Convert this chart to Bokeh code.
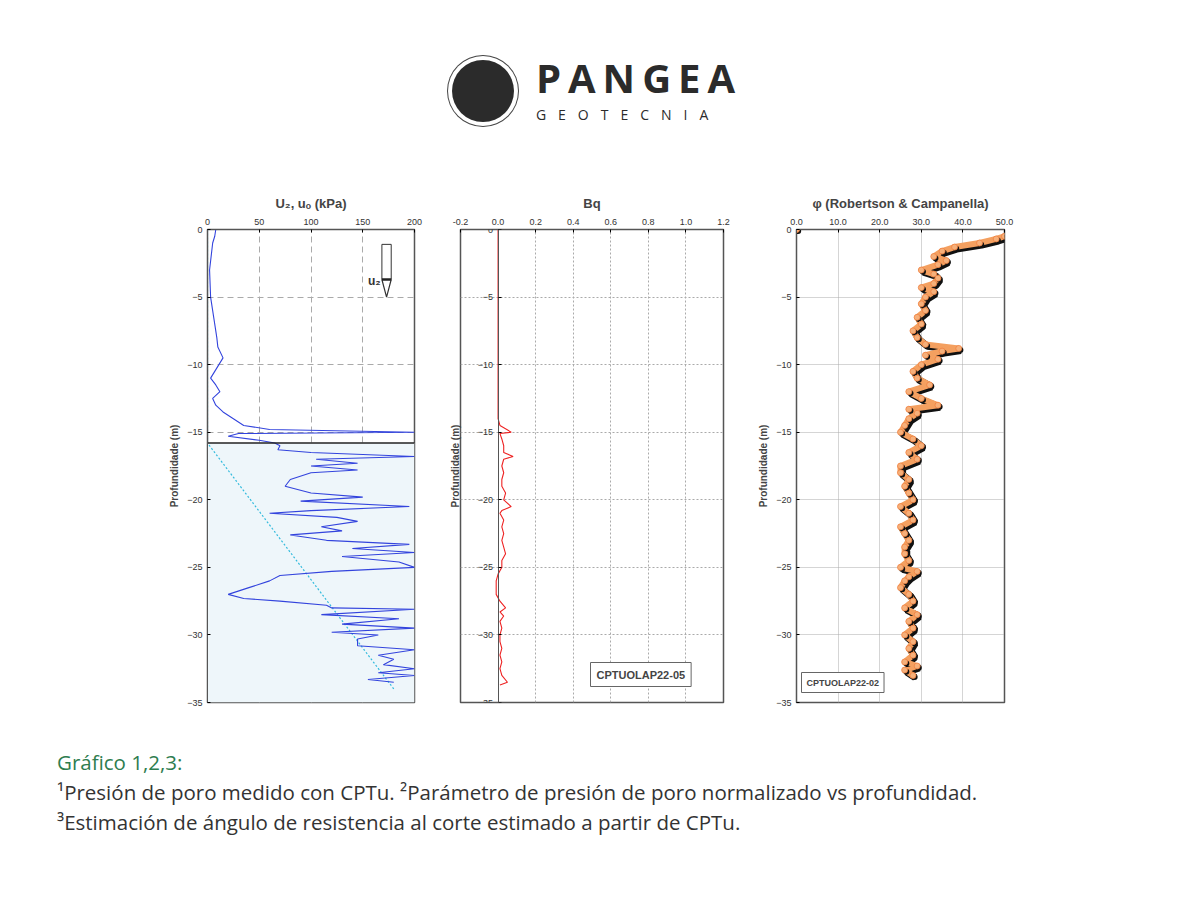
from bokeh.plotting import figure
from bokeh.layouts import column, row
from bokeh.models import Div, Spacer, Range1d, Label, FixedTicker, LinearAxis
from bokeh.embed import file_html
from bokeh.resources import INLINE

# ---------------- data ----------------
u2_depth = [0, -0.5, -1, -3, -5, -6, -7, -8, -8.7, -9.5, -10.5, -11, -11.5, -12, -12.5, -13, -13.5, -14, -14.5,
            -14.8, -15.0, -15.1, -15.3, -15.6, -15.8, -16.0, -16.3, -16.5, -16.8, -17.0, -17.3, -17.5, -17.8, -18.0,
            -18.5, -19.0, -19.5, -19.8, -20.1, -20.5, -20.8, -21.0, -21.3, -21.6, -22.0, -22.3, -22.6, -23.0, -23.3,
            -23.6, -23.9, -24.2, -24.6, -25.0, -25.3, -25.6, -26.0, -26.5, -27.0, -27.3, -27.5, -27.8, -28.0, -28.1,
            -28.5, -28.8, -29.2, -29.5, -29.8, -30.0, -30.3, -30.8, -31.1, -31.5, -31.8, -32.2, -32.5, -32.8, -33.0,
            -33.3, -33.5]
u2_val = [8, 7, 5, 2, 3, 5, 7, 9, 10, 15, 7, 3, 8, 12, 5, 8, 15, 25, 35,
          60, 200, 30, 20, 50, 65, 70, 68, 100, 200, 105, 145, 100, 145, 100,
          80, 75, 100, 150, 90, 195, 100, 60, 125, 145, 110, 130, 80, 115, 195,
          140, 200, 130, 185, 200, 120, 70, 60, 40, 20, 35, 70, 115, 120, 200,
          110, 185, 130, 200, 120, 165, 145, 145, 200, 165, 180, 170, 200, 165, 200,
          155, 180]
uo_depth = [0, -15.8, -34.0]
uo_val = [0, 0, 180]
water_table = -15.8

bq_depth = [0, -14.0, -14.5, -15.0, -15.1, -15.5, -16.0, -16.5, -16.8, -17.0, -17.5, -18.0, -18.5, -19.0, -19.5,
            -20.0, -20.5, -20.8, -21.0, -21.5, -22.0, -22.5, -23.0, -23.5, -24.0, -24.5, -25.0, -25.5, -26.0,
            -26.5, -27.0, -27.5, -28.0, -28.3, -28.6, -29.0, -29.5, -30.0, -30.5, -31.0, -31.5, -32.0, -32.5,
            -33.0, -33.5, -33.7]
bq_val = [0.0, 0.0, 0.01, 0.07, 0.01, 0.02, 0.03, 0.03, 0.08, 0.03, 0.02, 0.03, 0.02, 0.02, 0.04,
          0.03, 0.07, 0.02, 0.01, 0.03, 0.02, 0.03, 0.02, 0.03, 0.04, 0.02, 0.02, 0.0, -0.01,
          -0.01, -0.01, 0.01, 0.04, 0.01, 0.03, 0.01, 0.02, 0.01, 0.01, 0.02, 0.01, 0.02, 0.01,
          0.02, 0.05, 0.01]

phi_depth = [-0.5, -0.7, -1.0, -1.3, -1.6, -2.0, -2.3, -2.6, -3.0, -3.3, -3.6, -4.0, -4.3, -4.6, -5.0, -5.5,
             -6.0, -6.5, -7.0, -7.5, -8.0, -8.5, -8.8, -9.0, -9.3, -9.6, -10.0, -10.5, -11.0, -11.5, -12.0, -12.5,
             -13.0, -13.3, -13.6, -14.0, -14.5, -15.0, -15.5, -16.0, -16.5, -17.0, -17.5, -18.0, -18.5, -19.0,
             -19.5, -20.0, -20.5, -21.0, -21.5, -22.0, -22.5, -23.0, -23.5, -24.0, -24.5, -25.0, -25.3, -25.7,
             -26.0, -26.5, -27.0, -27.5, -28.0, -28.5, -29.0, -29.5, -30.0, -30.5, -31.0, -31.5, -32.0, -32.3,
             -32.6, -33.0]
phi_val = [50, 48, 44, 38, 35, 33, 36, 34, 30, 33, 34, 33, 30, 33, 31, 30,
           31, 29, 30, 28, 29, 31, 39, 35, 31, 34, 30, 28, 29, 32, 27, 30,
           34, 27, 29, 27, 26, 25, 28, 30, 27, 29, 25, 25, 27, 26,
           27, 28, 25, 27, 28, 25, 26, 27, 26, 26, 27, 25, 29, 27,
           26, 25, 27, 28, 26, 29, 27, 28, 26, 28, 27, 28, 26, 29,
           26, 28]
phi_start = [0.0]
phi_start_depth = [0.0]

depth_ticks = [0, -5, -10, -15, -20, -25, -30, -35]
FONT = "Liberation Sans"


def base(x_range, xticks, fw, bl, br, title, grid_dash):
    p = figure(frame_width=fw, frame_height=473, x_range=x_range, y_range=Range1d(-35, 0),
               x_axis_location="above", output_backend="svg", toolbar_location=None,
               min_border_left=bl, min_border_right=br, min_border_top=10, min_border_bottom=12,
               background_fill_color="white", border_fill_color="white", outline_line_color="#555555",
               outline_line_width=1.5)
    p.title.text = title
    p.title.align = "center"
    p.title.text_font = FONT
    p.title.text_font_size = "13px"
    p.title.text_font_style = "bold"
    for ax in (p.xaxis[0], p.yaxis[0]):
        ax.major_label_text_font = FONT
        ax.major_label_text_font_size = "9px"
        ax.major_label_text_color = "#333333"
        ax.axis_line_color = "#555555"
        ax.major_tick_in = 3
        ax.major_tick_out = 0
        ax.minor_tick_line_color = None
    p.xaxis.ticker = FixedTicker(ticks=xticks)
    p.yaxis.ticker = FixedTicker(ticks=depth_ticks)
    p.yaxis.axis_label = "Profundidade (m)"
    p.yaxis.axis_label_text_font = FONT
    p.yaxis.axis_label_text_font_size = "10px"
    p.yaxis.axis_label_text_font_style = "bold"
    p.yaxis.axis_label_standoff = 4
    p.grid.grid_line_color = "#aaaaaa"
    p.grid.grid_line_dash = grid_dash
    p.grid.grid_line_width = 1
    p.xgrid.ticker = FixedTicker(ticks=xticks)
    p.ygrid.ticker = FixedTicker(ticks=depth_ticks)
    return p


# panel 1
p1 = base(Range1d(0, 200), [0, 50, 100, 150, 200], 207, 50, 10, "U₂, uₒ (kPa)", "6 4")
p1.xaxis.minor_tick_line_color = "#333333"
p1.xaxis.minor_tick_in = 3
p1.xaxis.minor_tick_out = 0
p1.quad(left=0, right=200, bottom=-35, top=water_table, fill_color="#eef6fa", line_color=None)
p1.line(uo_val, uo_depth, line_color="#33bbdd", line_dash="2 2", line_width=1.2)
p1.line(u2_val, u2_depth, line_color="#3344dd", line_width=1.1)
p1.segment(x0=0, x1=200, y0=water_table, y1=water_table, line_color="#222222", line_width=1.5)
p1.add_layout(Label(x=155, y=-4.3, text="u₂", text_font=FONT, text_font_size="12px",
                    text_font_style="bold", text_color="#333333"))
p1.rect(x=[173], y=[-2.4], width=9, height=2.6, fill_color="white", line_color="#333333")
p1.line([168.5, 173, 177.5], [-3.7, -5.0, -3.7], line_color="#333333", line_width=1.2)
p1.segment(x0=168.5, x1=177.5, y0=-3.7, y1=-3.7, line_color="#222222", line_width=2.5)

# panel 2
p2 = base(Range1d(-0.2, 1.2), [-0.2, 0.0, 0.2, 0.4, 0.6, 0.8, 1.0, 1.2], 263, 36, 10, "Bq", "2 2")
p2.xaxis.major_label_overrides = {-0.2: "-0.2", 0.0: "0.0", 0.2: "0.2", 0.4: "0.4", 0.6: "0.6",
                                  0.8: "0.8", 1.0: "1.0", 1.2: "1.2"}
p2.yaxis.fixed_location = 0
p2.yaxis.axis_label = None
extra = LinearAxis(axis_label="Profundidade (m)", axis_label_text_font=FONT, axis_label_text_font_size="10px",
                   axis_label_text_font_style="bold", major_label_text_font_size="0px",
                   major_tick_line_color=None, minor_tick_line_color=None, axis_line_color=None,
                   ticker=FixedTicker(ticks=[]), axis_label_standoff=0)
p2.add_layout(extra, "left")
p2.line(bq_val, bq_depth, line_color="#ee2222", line_width=1.1)
p2.add_layout(Label(x=130, y=16, x_units="screen", y_units="screen", text="CPTUOLAP22-05",
                    text_font=FONT, text_font_size="11px", text_font_style="bold",
                    border_line_color="#666666", background_fill_color="white",
                    padding=6))

# panel 3
p3 = base(Range1d(0, 50), [0, 10, 20, 30, 40, 50], 208, 63, 20, "φ (Robertson & Campanella)", "1 1")
p3.xaxis.major_label_overrides = {0: "0.0", 10: "10.0", 20: "20.0", 30: "30.0", 40: "40.0", 50: "50.0"}
p3.xaxis.minor_tick_line_color = "#333333"
p3.xaxis.minor_tick_in = 3
p3.xaxis.minor_tick_out = 0
p3.line([v + 0.5 for v in phi_val], [d - 0.15 for d in phi_depth], line_color="#111111", line_width=7)
p3.line(phi_val, phi_depth, line_color="#f4a060", line_width=6)
p3.scatter([v + 0.4 for v in phi_val], [d - 0.12 for d in phi_depth], size=6, fill_color="#111111",
           line_color=None)
p3.scatter(phi_val, phi_depth, size=6, fill_color="#f6b07a", line_color="#f08040", line_width=0.8)
p3.scatter([v + 0.4 for v in phi_start], [d - 0.12 for d in phi_start_depth], size=6, fill_color="#111111",
           line_color=None)
p3.scatter(phi_start, phi_start_depth, size=6, fill_color="#f6b07a", line_color="#f08040")
p3.add_layout(Label(x=5, y=10, x_units="screen", y_units="screen", text="CPTUOLAP22-02",
                    text_font=FONT, text_font_size="9px", text_font_style="bold",
                    border_line_color="#666666", background_fill_color="white", padding=5))

logo = Div(text="""
<div style="display:flex;align-items:center;justify-content:center;width:1184px;height:172px;">
 <div style="width:62px;height:62px;border-radius:50%;background:#2b2b2b;margin-right:22px;
      box-shadow:0 0 0 4px white, 0 0 0 5px #444;"></div>
 <div style="font-family:'Open Sans';color:#2b2b2b;text-align:left;">
  <div style="font-size:40px;font-weight:700;letter-spacing:7px;line-height:38px;margin-bottom:10px;">PANGEA</div>
  <div style="font-size:14px;letter-spacing:12px;line-height:16px;">GEOTECNIA</div>
 </div>
</div>""", width=1184, height=178)

caption = Div(text="""
<div style="font-family:'Open Sans';font-size:20.5px;line-height:30px;color:#333333;padding-left:52px;">
 <div style="color:#2e7d4f;">Gráfico 1,2,3:</div>
 <div>¹Presión de poro medido con CPTu. ²Parámetro de presión de poro normalizado vs profundidad.</div>
 <div>³Estimación de ángulo de resistencia al corte estimado a partir de CPTu.</div>
</div>""", width=1184, height=120)

layout = column(logo, row(Spacer(width=157), p1, p2, p3), Spacer(height=28), caption)
open("out.html", "w").write(file_html(layout, INLINE))
